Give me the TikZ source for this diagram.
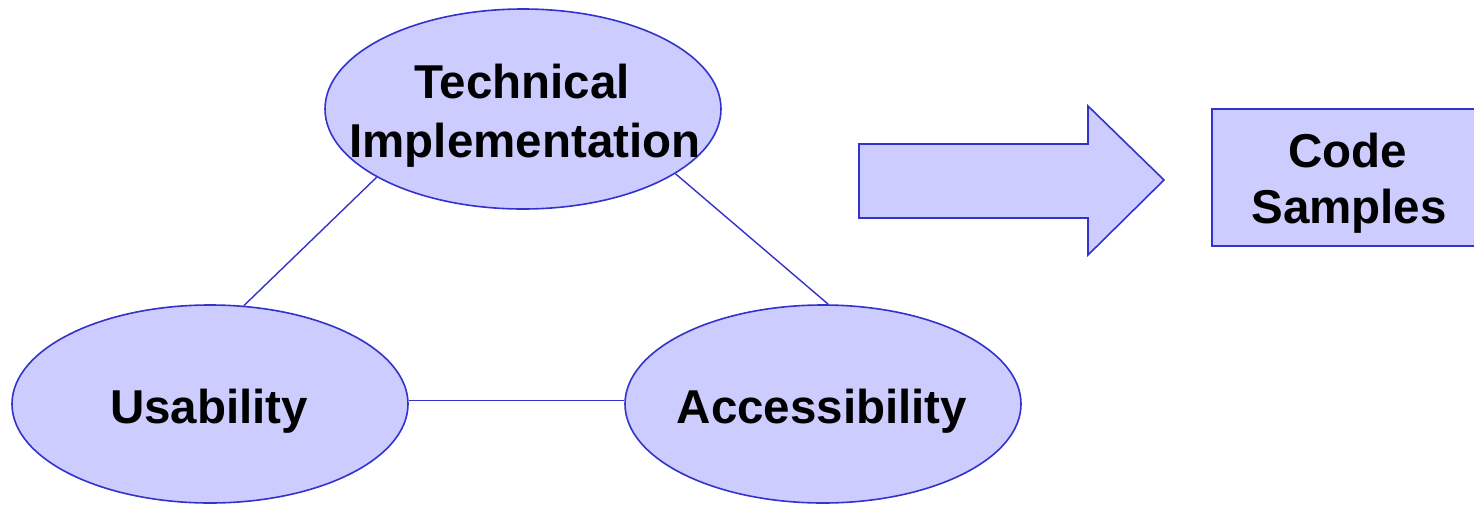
\documentclass[tikz,border=0pt]{standalone}
\usepackage{fontspec}
\setmainfont{Liberation Sans}
\usetikzlibrary{shapes.geometric}
\definecolor{shapefill}{HTML}{CCCCFF}
\definecolor{shapeline}{HTML}{3333CC}
\tikzset{
  oval/.style={ellipse, draw=shapeline, fill=shapefill, line width=1.6pt, inner sep=0pt},
  boxnode/.style={rectangle, draw=shapeline, fill=shapefill, line width=1.6pt, inner sep=0pt},
  link/.style={draw=shapeline, line width=1.4pt},
  lbl/.style={font=\fontsize{47.5}{59}\selectfont\bfseries, text=black, inner sep=0pt, align=center},
}
\begin{document}
\begin{tikzpicture}[x=1pt,y=-1pt]
  \useasboundingbox (0,0) rectangle (1474,504);
  % the three ovals
  \node[oval, minimum width=396pt, minimum height=200pt] (t) at (523,109) {};
  \node[oval, minimum width=396pt, minimum height=198pt] (u) at (210,404) {};
  \node[oval, minimum width=396pt, minimum height=198pt] (a) at (823,404) {};
  % their labels
  \node[lbl, anchor=base] at (522,98) {Technical};
  \node[lbl, anchor=base] at (525,157) {Implementation};
  \node[lbl, anchor=base] at (209,423) {Usability};
  \node[lbl, anchor=base] at (822,423) {Accessibility};
  % connecting lines
  \draw[link] (t.205) -- (u.71);
  \draw[link] (t.337) -- (a.87);
  \draw[link] (u.1) -- (a.179);
  % block arrow
  \draw[draw=shapeline, fill=shapefill, line width=1.6pt, line join=miter]
    (859,144) -- (1088,144) -- (1088,106) -- (1164,180) -- (1088,255)
    -- (1088,218) -- (859,218) -- cycle;
  % result box, running off the right edge
  \node[boxnode, minimum width=264pt, minimum height=137pt] (c) at (1344,177.5) {};
  \node[lbl, anchor=base] at (1348,167) {Code};
  \node[lbl, anchor=base] at (1349,223) {Samples};
\end{tikzpicture}
\end{document}
